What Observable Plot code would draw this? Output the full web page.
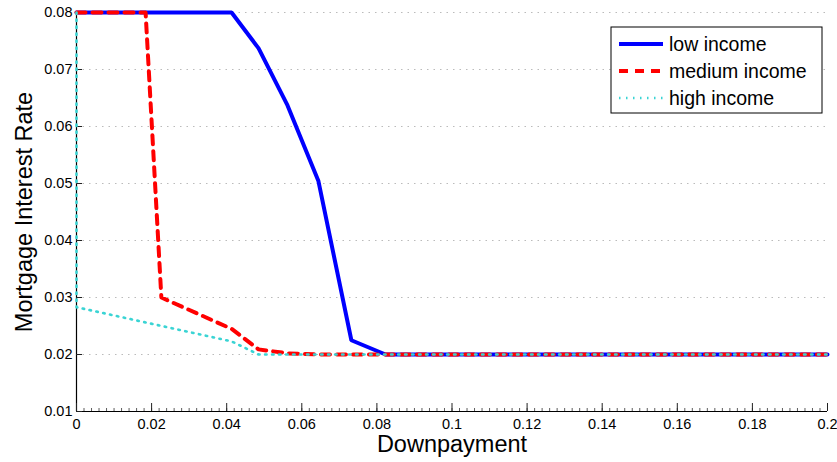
<!DOCTYPE html>
<html>
<head>
<meta charset="utf-8">
<script src="https://cdn.jsdelivr.net/npm/d3@7"></script>
<script src="https://cdn.jsdelivr.net/npm/@observablehq/plot@0.6"></script>
<style>
  html, body { margin: 0; padding: 0; background: #fff; }
  #chart svg { display: block; font-family: "Liberation Sans", Arial, Helvetica, sans-serif; }
</style>
</head>
<body>
<div id="chart"></div>
<script>
// Mortgage interest rate offered at each downpayment level, by income group
const lowDown   = [0, 0.0413, 0.0485, 0.0562, 0.0644, 0.0732, 0.0823, 0.2];
const lowRate   = [0.08, 0.08, 0.0737, 0.0637, 0.0505, 0.0225, 0.0200, 0.0200];

const medDown   = [0, 0.0184, 0.0226, 0.0413, 0.0485, 0.0562, 0.0644, 0.2];
const medRate   = [0.08, 0.08, 0.0300, 0.0245, 0.0209, 0.0202, 0.0200, 0.0200];

const highDown  = [0, 0, 0.0413, 0.0485, 0.2];
const highRate  = [0.08, 0.0283, 0.0223, 0.0200, 0.0200];

const seriesNames = ["low income", "medium income", "high income"];

const xTicks = [0, 0.02, 0.04, 0.06, 0.08, 0.1, 0.12, 0.14, 0.16, 0.18, 0.2];
const xTickLabels = ["0", "0.02", "0.04", "0.06", "0.08", "0.1", "0.12", "0.14", "0.16", "0.18", "0.2"];
const xMinorTicks = d3.range(0, 101).map(i => i * 0.002);
const yTicks = [0.01, 0.02, 0.03, 0.04, 0.05, 0.06, 0.07, 0.08];
const yTickLabels = ["0.01", "0.02", "0.03", "0.04", "0.05", "0.06", "0.07", "0.08"];

const toRows = (xs, ys) => xs.map((x, i) => ({x, y: ys[i]}));
const low = toRows(lowDown, lowRate);
const med = toRows(medDown, medRate);
const high = toRows(highDown, highRate);

const styles = [
  {stroke: "#0000ff", strokeWidth: 4, dash: null},
  {stroke: "#ff0000", strokeWidth: 4, dash: "9,7"},
  {stroke: "#3ad4d4", strokeWidth: 2.6, dash: "1.5,5.5"}
];

const chart = Plot.plot({
  width: 837,
  height: 462,
  marginLeft: 76,
  marginRight: 10,
  marginTop: 12,
  marginBottom: 51,
  style: {fontFamily: "Liberation Sans, Arial, sans-serif", fontSize: "14.5px", color: "#000"},
  x: {domain: [0, 0.2]},
  y: {domain: [0.01, 0.08]},
  marks: [
    // dotted horizontal grid
    Plot.gridY(yTicks.slice(1), {stroke: "#b4b4b4", strokeOpacity: 0.9, strokeDasharray: "1.5,5", strokeWidth: 1}),
    // axis lines and inward ticks
    Plot.ruleX([0], {stroke: "#000", strokeWidth: 1.2}),
    Plot.ruleY([0.01], {stroke: "#000", strokeWidth: 1.2}),
    Plot.axisX(xMinorTicks, {anchor: "bottom", tickSize: -3, text: null, label: null, stroke: "#333", strokeWidth: 0.8}),
    Plot.axisX(xTicks, {anchor: "bottom", tickSize: -8, tickPadding: 15, tickFormat: (d, i) => xTickLabels[i], fontSize: 14.5, label: null, stroke: "#222", strokeWidth: 1}),
    Plot.axisY(yTicks, {anchor: "left", tickSize: -6, tickPadding: 10, tickFormat: (d, i) => yTickLabels[i], fontSize: 14.5, label: null, stroke: "#222", strokeWidth: 1}),
    // series
    Plot.line(low,  {x: "x", y: "y", stroke: styles[0].stroke, strokeWidth: styles[0].strokeWidth, strokeLinejoin: "miter"}),
    Plot.line(med,  {x: "x", y: "y", stroke: styles[1].stroke, strokeWidth: styles[1].strokeWidth, strokeDasharray: styles[1].dash}),
    Plot.line(high, {x: "x", y: "y", stroke: styles[2].stroke, strokeWidth: styles[2].strokeWidth, strokeDasharray: styles[2].dash}),
    // axis titles
    Plot.text(["Downpayment"], {frameAnchor: "bottom", dy: 33, fontSize: 23.5, textAnchor: "middle", lineAnchor: "middle"}),
    Plot.text(["Mortgage Interest Rate"], {frameAnchor: "left", dx: -52, rotate: -90, fontSize: 23.5, textAnchor: "middle", lineAnchor: "middle"})
  ]
});

// legend box in the upper right of the plot area
const svg = d3.select(chart);
const lg = svg.append("g").attr("transform", "translate(611,27)");
lg.append("rect").attr("width", 211).attr("height", 86)
  .attr("fill", "#fff").attr("stroke", "#000").attr("stroke-width", 1);
seriesNames.forEach((name, i) => {
  const yy = 17 + i * 27;
  lg.append("line").attr("x1", 8).attr("x2", 52).attr("y1", yy).attr("y2", yy)
    .attr("stroke", styles[i].stroke).attr("stroke-width", styles[i].strokeWidth)
    .attr("stroke-dasharray", styles[i].dash);
  lg.append("text").attr("x", 58).attr("y", yy).attr("dy", "0.35em")
    .attr("text-anchor", "start")
    .attr("font-size", 19.5).attr("fill", "#000").text(name);
});

document.getElementById("chart").appendChild(chart);
</script>
</body>
</html>
